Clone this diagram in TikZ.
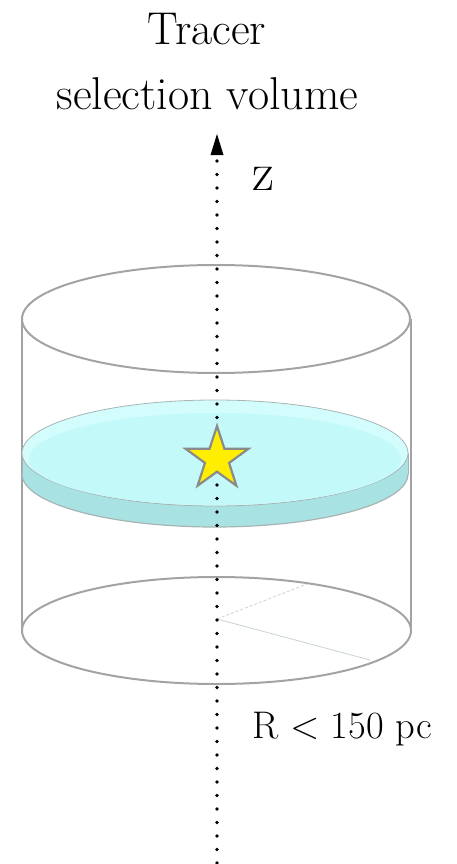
\documentclass[tikz,border=0pt]{standalone}
\usepackage{fontspec}
\usetikzlibrary{shapes.geometric}
\definecolor{cylgray}{HTML}{A3A3A3}
\definecolor{disktop}{HTML}{D3FDFD}
\definecolor{diskinner}{HTML}{C4F9F9}
\definecolor{diskside}{HTML}{A9E2E2}
\definecolor{diskedge}{HTML}{A8B4B4}
\definecolor{staryellow}{HTML}{FFEE00}
\definecolor{stargray}{HTML}{8A8A8A}
\definecolor{radline}{HTML}{C8D2D8}
\tikzset{
  cyl/.style={draw=cylgray, line width=2pt},
  axisdots/.style={draw=black, line width=3.6pt, line cap=round, dash pattern=on 0pt off 13.5pt},
  title/.style={font=\fontsize{46}{52}\selectfont, inner sep=0pt, anchor=base},
  radius/.style={draw=radline, line width=0.8pt}
}
\begin{document}
\begin{tikzpicture}[x=1pt,y=-1pt]
\useasboundingbox (0,0) rectangle (456,864);
% titles
\node[title] (t1) at (207,45) {Tracer};
\node[title] (t2) at (207.5,110) {selection volume};
\node[font=\fontsize{54}{60}\selectfont, inner sep=0pt, anchor=base west] (zlab) at (252,190) {z};
% cylinder
\coordinate (topc) at (216,319);
\coordinate (botc) at (216.5,630.5);
\draw[cyl] (botc) ellipse[x radius=194.5, y radius=53.5];
\draw[cyl] (21.5,319) -- (21.5,632);
\draw[cyl] (410.5,319) -- (410.5,630);
\draw[cyl] (topc) ellipse[x radius=194, y radius=54];
% radius lines in bottom ellipse
\coordinate (rc) at (217,619);
\coordinate (r1) at (307,584);
\coordinate (r2) at (370,660);
\draw[radius, dashed, dash pattern=on 3pt off 2pt] (rc) -- (r1);
\draw[radius] (rc) -- (r2);
% disk
\coordinate (dtop) at (215,453);
\coordinate (dbot) at (215,474);
\fill[diskside] (dbot) ellipse[x radius=193, y radius=53];
\fill[diskside] (22,453) rectangle (408,474);
\draw[diskedge, line width=1.2pt] (22,474) arc[start angle=180, end angle=0, x radius=193, y radius=53];
\draw[diskedge, line width=0.8pt] (22,453) -- (22,474);
\draw[diskedge, line width=0.8pt] (408,453) -- (408,474);
\filldraw[fill=disktop, draw=diskedge, line width=0.8pt] (dtop) ellipse[x radius=193, y radius=53];
\fill[diskinner] (215,459) ellipse[x radius=186, y radius=46];
% axis
\coordinate (zbot) at (217,863);
\coordinate (ztop) at (217,134);
\draw[axisdots] (zbot) -- (217,158);
\fill[black] (ztop) -- (210.5,155) -- (223.5,155) -- cycle;
% star
\node[star, star points=5, star point ratio=2.6, minimum size=66pt, inner sep=0pt,
      fill=staryellow, draw=stargray, line width=2.2pt] (star) at (217,459) {};
% R label
\node[font=\fontsize{38.5}{44}\selectfont, inner sep=0pt, anchor=base west] (rlab) at (252,738) {R < 150 pc};
\end{tikzpicture}
\end{document}
